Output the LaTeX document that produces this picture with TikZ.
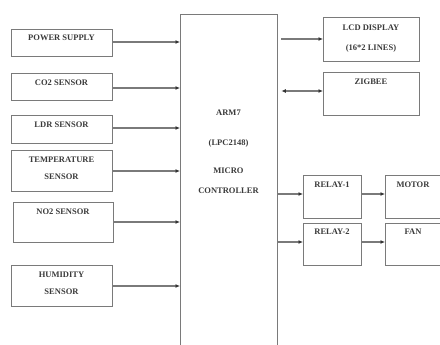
\documentclass[tikz,border=0pt]{standalone}
\usepackage{fontspec}
\setmainfont{Liberation Serif}
\usetikzlibrary{arrows.meta}
\definecolor{edge}{HTML}{7A7A7A}
\definecolor{txt}{HTML}{3A3A3A}
\begin{document}
\begin{tikzpicture}[x=1pt,y=-1pt,
  blk/.style={draw=edge,line width=1.4pt,rectangle,anchor=north west,inner sep=0pt},
  lbl/.style={text=txt,font=\bfseries\fontsize{8.5}{9}\selectfont,inner sep=0pt},
  conn/.style={draw=edge,line width=1.2pt,-{Latex[length=4.5pt,width=4pt,color=black!80]}},
  biconn/.style={draw=edge,line width=1.2pt,{Latex[length=4.5pt,width=4pt,color=black!80]}-{Latex[length=4.5pt,width=4pt,color=black!80]}}]
\useasboundingbox (0,0) rectangle (440,345);
\clip (0,0) rectangle (440,345);
% left blocks
\node[blk,minimum width=101pt,minimum height=27pt] (ps) at (11,29) {};
\node[lbl] at (61.5,38) {POWER SUPPLY};
\node[blk,minimum width=101pt,minimum height=27pt] (co) at (11,73) {};
\node[lbl] at (61.5,83) {CO2 SENSOR};
\node[blk,minimum width=101pt,minimum height=28pt] (ldr) at (11,115) {};
\node[lbl] at (61.5,125) {LDR SENSOR};
\node[blk,minimum width=101pt,minimum height=41pt] (tmp) at (11,150) {};
\node[lbl] at (61.5,160) {TEMPERATURE};
\node[lbl] at (61.5,177) {SENSOR};
\node[blk,minimum width=100pt,minimum height=40pt] (no) at (13,202) {};
\node[lbl] at (63,212) {NO2 SENSOR};
\node[blk,minimum width=101pt,minimum height=41pt] (hum) at (11,265) {};
\node[lbl] at (61.5,275) {HUMIDITY};
\node[lbl] at (61.5,292) {SENSOR};
% MCU
\node[blk,minimum width=97pt,minimum height=345pt] (mcu) at (180,14) {};
\node[lbl] (t1) at (228.5,113) {ARM7};
\node[lbl] (t2) at (228.5,143) {(LPC2148)};
\node[lbl] (t3) at (228.5,171) {MICRO};
\node[lbl] (t4) at (228.5,191) {CONTROLLER};
% right blocks
\node[blk,minimum width=96pt,minimum height=44pt] (lcd) at (323,17) {};
\node[lbl] at (371,28) {LCD DISPLAY};
\node[lbl] at (371,48) {(16*2 LINES)};
\node[blk,minimum width=96pt,minimum height=43pt] (zb) at (323,72) {};
\node[lbl] at (371,82) {ZIGBEE};
\node[blk,minimum width=58pt,minimum height=43pt] (r1) at (303,175) {};
\node[lbl] at (332,185) {RELAY-1};
\node[blk,minimum width=58pt,minimum height=42pt] (r2) at (303,223) {};
\node[lbl] at (332,232) {RELAY-2};
\node[blk,minimum width=62pt,minimum height=43pt] (mo) at (385,175) {};
\node[lbl] at (413,185) {MOTOR};
\node[blk,minimum width=62pt,minimum height=42pt] (fan) at (385,223) {};
\node[lbl] at (413,232) {FAN};
% connectors
\draw[conn] (ps.east |- 0,42) -- (mcu.west |- 0,42);
\draw[conn] (co.east |- 0,88) -- (mcu.west |- 0,88);
\draw[conn] (ldr.east |- 0,128) -- (mcu.west |- 0,128);
\draw[conn] (tmp.east |- 0,171) -- (mcu.west |- 0,171);
\draw[conn] (no.east |- 0,222) -- (mcu.west |- 0,222);
\draw[conn] (hum.east |- 0,286) -- (mcu.west |- 0,286);
\draw[conn] ([xshift=3pt]mcu.east |- 0,39) -- (lcd.west |- 0,39);
\draw[biconn] ([xshift=3pt]mcu.east |- 0,91) -- (zb.west |- 0,91);
\draw[conn] (mcu.east |- 0,194) -- (r1.west |- 0,194);
\draw[conn] (mcu.east |- 0,242) -- (r2.west |- 0,242);
\draw[conn] (r1.east |- 0,194) -- (mo.west |- 0,194);
\draw[conn] (r2.east |- 0,242) -- (fan.west |- 0,242);
\end{tikzpicture}
\end{document}
